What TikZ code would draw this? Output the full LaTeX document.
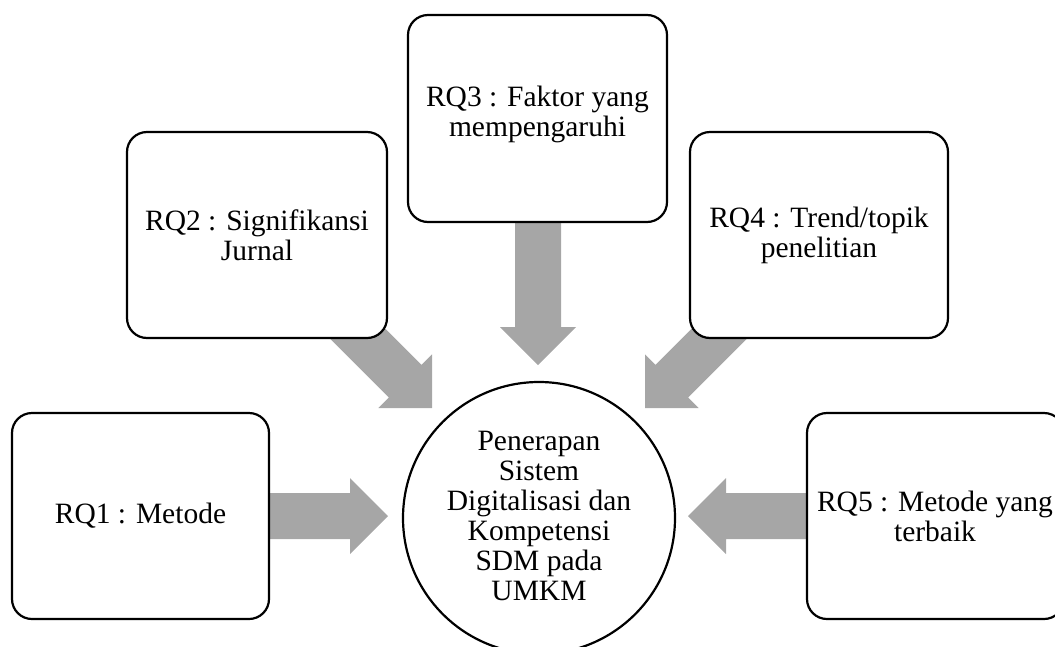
\documentclass[tikz,border=0pt]{standalone}
\usepackage{fontspec}
\setmainfont{Liberation Serif}
\definecolor{arrowgray}{RGB}{166,166,166}
\tikzset{
  x=1pt, y=1pt,
  rqbox/.style={draw=black, line width=2.2pt, fill=white, rounded corners=20pt},
  rqtext/.style={align=center, font=\fontsize{29.5}{30}\selectfont, inner sep=0pt},
  hub/.style={circle, draw=black, line width=2.2pt, fill=white, minimum size=272pt, inner sep=0pt},
  pics/blockarrow/.style={code={
    \fill[arrowgray] (0,0) -- (-38,38) -- (-38,23) -- (-#1,23) -- (-#1,-23)
      -- (-38,-23) -- (-38,-38) -- cycle;}}
}
\begin{document}
\begin{tikzpicture}
\useasboundingbox (0,0) rectangle (1055,-646);
\clip (0,0) rectangle (1055,-646);
% arrow tips
\coordinate (t1) at (388,-516);
\coordinate (t2) at (432,-408);
\coordinate (t3) at (538,-365);
\coordinate (t4) at (645,-408);
\coordinate (t5) at (688,-516);
% arrows (drawn first; tails hidden under the boxes)
\pic[shift={(t1)}, rotate=0] {blockarrow=160};
\pic[shift={(t2)}, rotate=-45] {blockarrow=170};
\pic[shift={(t3)}, rotate=-90] {blockarrow=180};
\pic[shift={(t4)}, rotate=-135] {blockarrow=170};
\pic[shift={(t5)}, rotate=180] {blockarrow=160};
% boxes
\draw[rqbox] (12,-413) rectangle (269,-619);
\draw[rqbox] (127,-132) rectangle (387,-338);
\draw[rqbox] (408,-15) rectangle (667,-222);
\draw[rqbox] (690,-132) rectangle (948,-338);
\draw[rqbox] (807,-413) rectangle (1064,-619);
% texts
\node[rqtext] (rq1) at (140.5,-516) {RQ1 : Metode};
\node[rqtext] (rq2) at (257,-235) {RQ2 : Signifikansi\\Jurnal};
\node[rqtext] (rq3) at (537.5,-114) {RQ3 : Faktor yang\\mempengaruhi};
\node[rqtext] (rq4) at (819,-235) {RQ4 : Trend/topik\\penelitian};
\node[rqtext] (rq5) at (935,-516) {RQ5 : Metode yang\\terbaik};
% hub
\node[hub] (c) at (539,-518) {};
\node[rqtext] (ct) at (539,-516) {Penerapan\\Sistem\\Digitalisasi dan\\Kompetensi\\SDM pada\\UMKM};
\end{tikzpicture}
\end{document}
